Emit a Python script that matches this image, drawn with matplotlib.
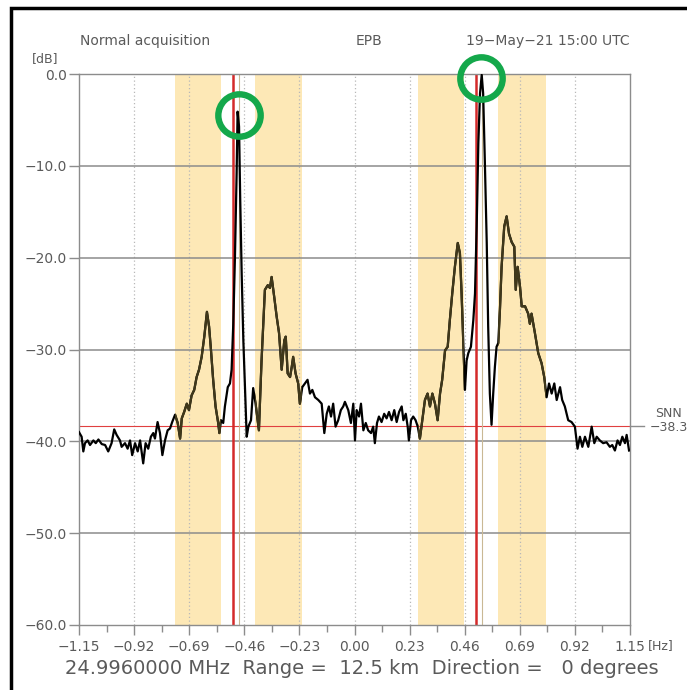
import matplotlib
matplotlib.use("Agg")
import matplotlib.pyplot as plt
from matplotlib.patches import Rectangle

# ---------------- data ----------------
freq_hz = [
    -1.150, -1.139, -1.132, -1.125, -1.114, -1.104, -1.090, -1.080, -1.069, -1.055,
    -1.041, -1.028, -1.014, -1.003, -0.993, -0.979, -0.972, -0.958, -0.947, -0.937,
    -0.928, -0.916, -0.905, -0.895, -0.882, -0.872, -0.861, -0.850, -0.840, -0.833,
    -0.822, -0.812, -0.802, -0.791, -0.780,
    -0.770, -0.761, -0.749, -0.738, -0.728, -0.721, -0.711, -0.700, -0.691, -0.680,
    -0.669, -0.659, -0.649, -0.638, -0.627, -0.616, -0.607, -0.599, -0.590, -0.580,
    -0.569, -0.564, -0.557, -0.548, -0.541, -0.529, -0.520, -0.513, -0.506, -0.499,
    -0.492, -0.488, -0.482, -0.477, -0.471, -0.464, -0.457, -0.450, -0.443, -0.432,
    -0.423, -0.413,
    -0.399, -0.388, -0.374, -0.362, -0.353, -0.346, -0.335, -0.325, -0.315, -0.304,
    -0.293, -0.287, -0.279, -0.269, -0.262, -0.256, -0.246, -0.235, -0.228, -0.218,
    -0.207, -0.196, -0.186, -0.176, -0.165, -0.151, -0.137, -0.126, -0.116, -0.107,
    -0.098, -0.089, -0.079, -0.068, -0.057, -0.047,
    -0.040, -0.026, -0.015, -0.005, 0.002, 0.009, 0.019, 0.027, 0.037, 0.047,
    0.057, 0.069, 0.078, 0.085, 0.094, 0.102, 0.113, 0.124, 0.134, 0.144,
    0.155, 0.166, 0.176, 0.186, 0.197, 0.204, 0.214, 0.222, 0.227, 0.236,
    0.245, 0.255, 0.264, 0.273, 0.283, 0.294, 0.305, 0.315, 0.325, 0.336,
    0.347, 0.357, 0.366, 0.378, 0.389, 0.398, 0.408, 0.419, 0.431, 0.440,
    0.447, 0.454, 0.461, 0.468, 0.475, 0.486, 0.496, 0.503, 0.510, 0.517,
    0.524, 0.531, 0.537, 0.544, 0.552, 0.558, 0.565, 0.572, 0.579, 0.586,
    0.593, 0.600, 0.607, 0.614, 0.625, 0.635, 0.645, 0.656, 0.667, 0.673,
    0.681, 0.691, 0.698, 0.712,
    0.725, 0.732, 0.739, 0.753, 0.767, 0.781, 0.792, 0.802, 0.812, 0.823,
    0.834, 0.844, 0.858, 0.867, 0.878, 0.892, 0.906, 0.920, 0.931, 0.941,
    0.951, 0.962, 0.976, 0.990, 1.001, 1.011, 1.024, 1.038, 1.052, 1.066,
    1.076, 1.087, 1.098, 1.108, 1.118, 1.129, 1.136, 1.146,
]
power_db = [
    -39.0, -39.5, -41.1, -40.2, -39.9, -40.4, -39.9, -40.2, -39.8, -40.3,
    -40.4, -41.1, -40.2, -38.7, -39.3, -39.9, -40.6, -40.2, -40.8, -39.9,
    -41.5, -40.2, -41.1, -39.9, -42.4, -40.2, -40.8, -39.5, -39.1, -39.7,
    -37.9, -39.1, -41.5, -39.9, -38.8,
    -38.6, -37.9, -37.1, -38.0, -39.7, -37.5, -36.8, -35.9, -36.6, -35.0,
    -34.4, -33.0, -32.2, -30.8, -28.6, -25.9, -27.5, -30.1, -33.3, -36.2,
    -38.0, -39.1, -37.7, -38.0, -36.2, -34.1, -33.7, -32.2, -27.2, -19.9,
    -10.8, -4.1, -5.7, -13.7, -21.7, -29.0, -34.4, -39.5, -38.4, -37.7,
    -34.2, -35.9,
    -38.8, -31.2, -23.5, -23.0, -23.3, -22.1, -24.3, -26.4, -28.2, -32.2,
    -29.0, -28.6, -32.6, -33.0, -31.9, -30.8, -32.6, -33.7, -35.9, -34.1,
    -33.7, -33.3, -34.8, -34.4, -35.2, -35.5, -35.9, -39.1, -37.0, -36.2,
    -37.3, -35.9, -38.4, -37.7, -36.6, -36.2,
    -35.7, -36.6, -38.0, -35.9, -39.9, -36.6, -37.3, -35.9, -38.8, -38.0,
    -38.8, -39.1, -38.4, -40.2, -38.0, -37.3, -37.9, -37.0, -37.5, -36.8,
    -37.7, -36.6, -37.9, -36.8, -36.2, -37.7, -37.0, -38.4, -39.9, -37.7,
    -37.3, -37.7, -38.4, -39.7, -37.7, -35.5, -34.8, -36.2, -34.8, -35.9,
    -37.7, -34.8, -33.3, -30.1, -29.7, -26.8, -23.9, -21.0, -18.4, -19.5,
    -23.9, -29.3, -34.4, -31.2, -30.4, -29.7, -26.8, -23.9, -16.6, -7.5,
    -2.1, -0.1, -2.1, -9.4, -18.4, -27.5, -34.8, -38.2, -34.8, -31.9,
    -29.7, -29.3, -25.7, -21.0, -16.6, -15.5, -17.4, -18.3, -18.8, -23.5,
    -21.0, -23.2, -25.3, -25.3,
    -26.1, -27.2, -26.1, -28.2, -30.4, -31.5, -33.0, -35.2, -33.7, -34.8,
    -33.7, -35.5, -34.1, -35.5, -36.2, -37.7, -37.9, -38.4, -40.8, -39.5,
    -40.6, -39.5, -40.6, -38.4, -40.2, -39.5, -39.9, -40.2, -40.1, -40.6,
    -40.4, -41.0, -39.9, -40.4, -39.5, -40.2, -39.3, -41.0,
]

bands_hz = [(-0.749, -0.557), (-0.415, -0.220), (0.265, 0.457), (0.600, 0.800)]
bragg_red_hz = [-0.509, 0.507]
peak_marker_hz = [-0.481, 0.533]
snn_db = -38.3
circle_hz = [-0.484, 0.530]
circle_db = [-4.5, -0.4]
x_ticks = [-1.15, -0.92, -0.69, -0.46, -0.23, 0.00, 0.23, 0.46, 0.69, 0.92, 1.15]
y_ticks = [0, -10, -20, -30, -40, -50, -60]

title_left = "Normal acquisition"
title_mid = "EPB"
title_right = "19\u2212May\u221221 15:00 UTC"
footer = "24.9960000 MHz  Range =  12.5 km  Direction =   0 degrees"

# ---------------- figure ----------------
W, H = 687, 690
fig = plt.figure(figsize=(W / 100, H / 100), dpi=100)
txt = "#5a5a5a"
grid_c = "#8c8c8c"

ax = fig.add_axes([79 / W, 1 - 625 / H, (630 - 79) / W, (625 - 74) / H])
ax.set_xlim(-1.15, 1.15)
ax.set_ylim(-60, 0)

spans = []
for a, b in bands_hz:
    spans.append(ax.axvspan(a, b, color="#fde8b6", lw=0, zorder=0))

for xv in x_ticks[1:-1]:
    ax.axvline(xv, color="#b8b8b8", lw=0.9, ls=(0, (1, 2)), zorder=1)
for yv in y_ticks[1:-1]:
    ax.axhline(yv, color=grid_c, lw=1.1, zorder=1)

ax.axhline(snn_db, color="#e04040", lw=0.8, zorder=2)
for xv in bragg_red_hz:
    ax.axvline(xv, color="#d42a2a", lw=1.8, zorder=2)
for xv in peak_marker_hz:
    ax.axvline(xv, color="#c9b894", lw=0.8, zorder=2)

ax.plot(freq_hz, power_db, color="black", lw=1.6, zorder=3)
for sp in spans:
    ln, = ax.plot(freq_hz, power_db, color="#40381a", lw=1.6, zorder=4)
    ln.set_clip_path(sp)

# green highlight circles around the two peaks
ax.plot(circle_hz, circle_db, ls="none", marker="o", ms=30.5, mfc="none",
        mec="#14a84b", mew=4.6, zorder=6, clip_on=False)

for s in ax.spines.values():
    s.set_color(grid_c)
    s.set_linewidth(1.0)

ax.set_xticks(x_ticks)
ax.set_xticklabels([f"{v:.2f}".replace("-", "\u2212") for v in x_ticks])
ax.set_xticks([v + 0.115 for v in x_ticks[:-1]], minor=True)
ax.set_yticks(y_ticks)
ax.set_yticklabels([f"{v:.1f}".replace("-", "\u2212") for v in y_ticks])
ax.tick_params(axis="both", which="major", colors=grid_c, labelcolor=txt,
               labelsize=10, length=7, width=1.0, direction="out")
ax.tick_params(axis="x", which="minor", colors=grid_c, length=5, width=1.0,
               direction="out")
ax.tick_params(axis="x", pad=4)
ax.tick_params(axis="y", pad=2)

# right-side SNN marker
ax.plot([1.0, 1.025], [snn_db, snn_db], transform=ax.get_yaxis_transform(),
        color=grid_c, lw=1.0, clip_on=False)
fig.text(669 / W, 1 - 420 / H, "SNN", color=txt, fontsize=9,
         va="bottom", ha="center")
fig.text(669 / W, 1 - 421 / H, "\u221238.3", color=txt, fontsize=9,
         va="top", ha="center")

# texts
fig.text(80 / W, 1 - 41 / H, title_left, color=txt, fontsize=10, va="center", ha="left")
fig.text(369 / W, 1 - 41 / H, title_mid, color=txt, fontsize=10, va="center", ha="center")
fig.text(630 / W, 1 - 41 / H, title_right, color=txt, fontsize=10, va="center", ha="right")
fig.text(45 / W, 1 - 59 / H, "[dB]", color=txt, fontsize=9, va="center", ha="center")
fig.text(648 / W, 1 - 646 / H, "[Hz]", color=txt, fontsize=9, va="center", ha="left")
fig.text(362 / W, 1 - 668 / H, footer, color=txt, fontsize=14, va="center", ha="center")

# outer frame
fig.patches.append(Rectangle((11 / W, -0.05), 1.2, 1 - 8 / H + 0.05,
                             transform=fig.transFigure, fill=False,
                             edgecolor="black", lw=2.5))

fig.savefig("out.png", dpi=100)
